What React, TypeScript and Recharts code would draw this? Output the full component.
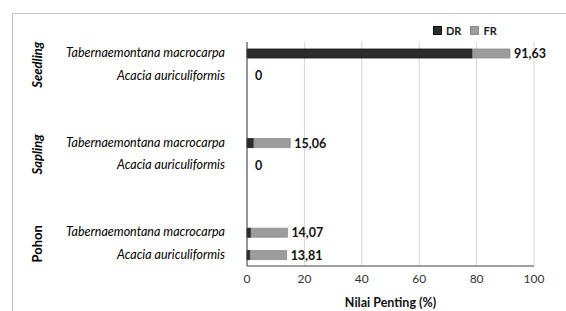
import React from "react";
import { BarChart, Bar, XAxis, YAxis, CartesianGrid, LabelList } from "recharts";

// 10 category slots: two species per growth stage, with two empty spacer slots between stages
const rowIds = ["s1", "s2", "g1", "g2", "p1", "p2", "g3", "g4", "h1", "h2"];
const speciesLabels = [
  "Tabernaemontana macrocarpa", "Acacia auriculiformis", "", "",
  "Tabernaemontana macrocarpa", "Acacia auriculiformis", "", "",
  "Tabernaemontana macrocarpa", "Acacia auriculiformis",
];
const groupLabels = ["Seedling", "", "", "", "Sapling", "", "", "", "Pohon", ""];
const groupItalic = [true, false, false, false, true, false, false, false, false, false];
const drValues = [78.6, 0, null, null, 2.4, 0, null, null, 1.4, 1.1];
const frValues = [13.03, 0, null, null, 12.66, 0, null, null, 12.67, 12.71];
const totalLabels = ["91,63", "0", "", "", "15,06", "0", "", "", "14,07", "13,81"];
const xTicks = [0, 20, 40, 60, 80, 100];

const data = rowIds.map((id, i) => ({
  id,
  DR: drValues[i],
  FR: frValues[i],
  label: totalLabels[i],
}));

const FONT = "Lato, 'Open Sans', sans-serif";

const YTick = (props: any) => {
  const { x, y, payload } = props;
  const i = payload.index;
  const sp = speciesLabels[i];
  const g = groupLabels[i];
  const zeroTotal = totalLabels[i] === "0";
  return (
    <g>
      {sp ? (
        <text x={x - 14} y={y} dy={4} textAnchor="end" fontFamily={FONT} fontStyle="italic" fontSize={12.5} fill="#000">
          {sp}
        </text>
      ) : null}
      {zeroTotal ? (
        <text x={x + 16} y={y} dy={4.5} fontFamily={FONT} fontWeight="bold" fontSize={12.5} fill="#111">
          {totalLabels[i]}
        </text>
      ) : null}
      {g ? (
        <text
          x={0}
          y={0}
          transform={`translate(42, ${y + 11.5}) rotate(-90)`}
          textAnchor="middle"
          fontFamily={FONT}
          fontWeight="bold"
          fontStyle={groupItalic[i] ? "italic" : "normal"}
          fontSize={13}
          fill="#000"
        >
          {g}
        </text>
      ) : null}
    </g>
  );
};

const ValueLabel = (props: any) => {
  const { x, y, width, height, value } = props;
  if (!value || value === "0") return null;
  return (
    <text x={x + width + 4} y={y + height / 2} dy={4.5} fontFamily={FONT} fontWeight="bold" fontSize={12.5} fill="#111">
      {value}
    </text>
  );
};

export default function App() {
  return (
    <div style={{ position: "absolute", left: 0, top: 0, width: 566, height: 311, overflow: "hidden", background: "#fff" }}>
      <div style={{ position: "absolute", left: 12, top: 13, width: 600, height: 400, border: "1px solid #c4c4c4" }} />
      <div style={{ position: "absolute", left: 0, top: 0 }}>
        <BarChart
          width={566}
          height={311}
          data={data}
          layout="vertical"
          margin={{ top: 42, right: 32, bottom: 0, left: 0 }}
          barSize={9}
        >
          <CartesianGrid horizontal={false} vertical={true} stroke="#d4d4d4" />
          <XAxis
            type="number"
            domain={[0, 100]}
            ticks={xTicks}
            tickLine={false}
            axisLine={{ stroke: "#444" }}
            height={45}
            tick={{ fontFamily: FONT, fontSize: 12, fill: "#333" }}
            label={{ value: "Nilai Penting (%)", position: "insideBottom", offset: 4, style: { fontFamily: FONT, fontWeight: "bold", fontSize: 12.5, fill: "#111" } }}
          />
          <YAxis
            type="category"
            dataKey="id"
            width={247}
            tickLine={false}
            axisLine={{ stroke: "#444" }}
            tick={<YTick />}
            interval={0}
          />
          <Bar dataKey="DR" stackId="a" fill="#2b2b2b" stroke="#111" strokeWidth={0.8} isAnimationActive={false} />
          <Bar dataKey="FR" stackId="a" fill="#9c9c9c" stroke="#8a8a8a" strokeWidth={0.8} isAnimationActive={false}>
            <LabelList dataKey="label" content={<ValueLabel />} />
          </Bar>
        </BarChart>
      </div>
      <div style={{ position: "absolute", left: 433, top: 24, display: "flex", alignItems: "center", fontFamily: FONT, fontWeight: "bold", fontSize: 11, color: "#1a1a1a" }}>
        <span style={{ display: "inline-block", width: 7, height: 7, background: "#2b2b2b", border: "1px solid #111", marginRight: 4 }} />
        <span style={{ marginRight: 9 }}>DR</span>
        <span style={{ display: "inline-block", width: 7, height: 7, background: "#9c9c9c", border: "1px solid #8a8a8a", marginRight: 4 }} />
        <span>FR</span>
      </div>
    </div>
  );
}
